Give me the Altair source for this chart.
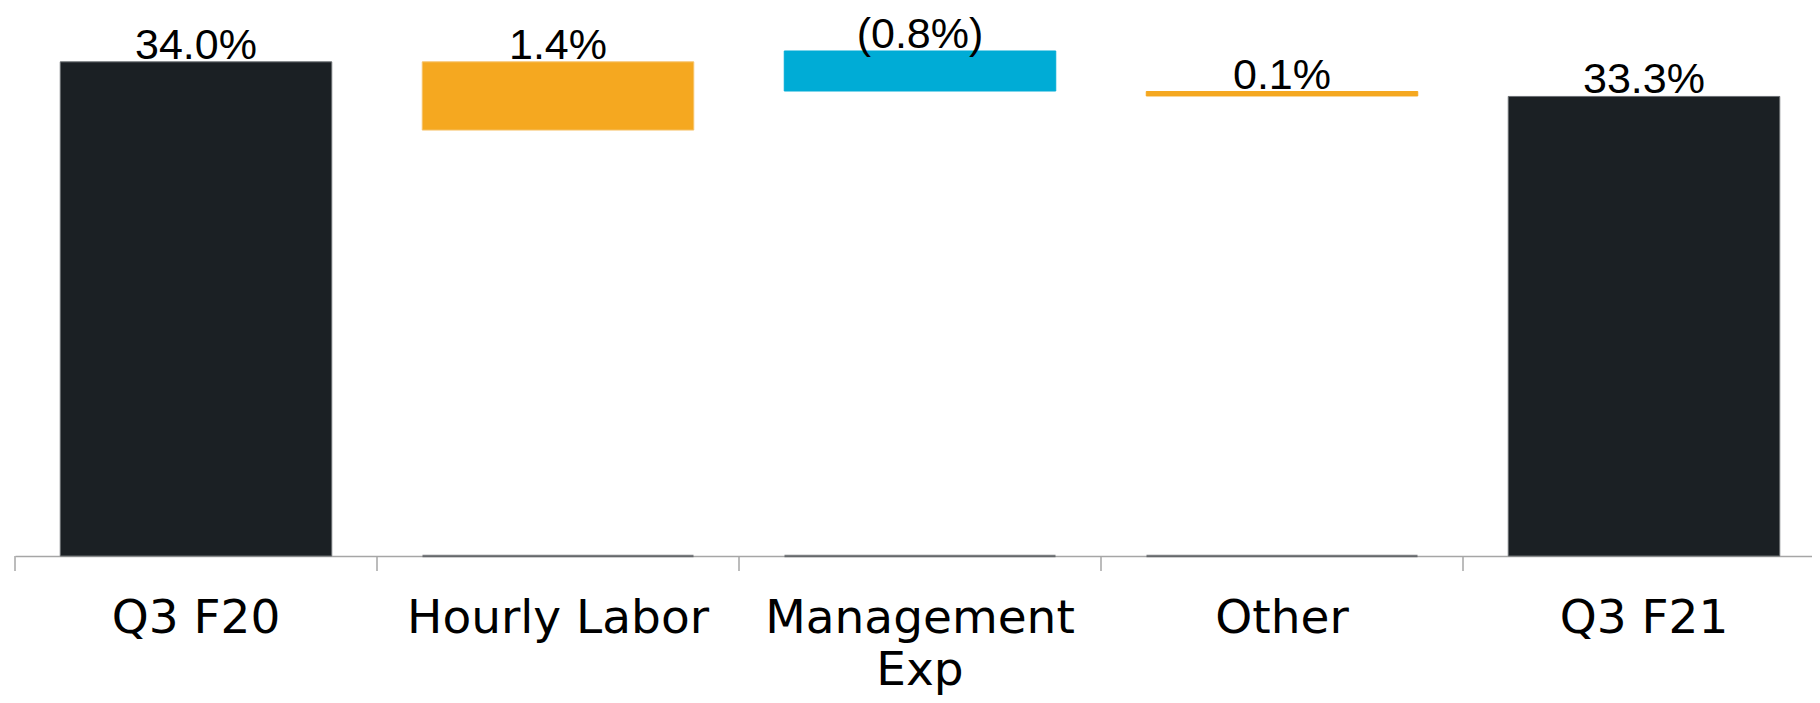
import altair as alt
import pandas as pd

categories = ["Q3 F20", "Hourly Labor", "Management Exp", "Other", "Q3 F21"]
value_labels = ["34.0%", "1.4%", "(0.8%)", "0.1%", "33.3%"]
bar_low = [24.0, 32.62, 33.41, 33.31, 24.0]
bar_high = [34.0, 34.0, 34.22, 33.40, 33.3]
fill_colors = ["#1b2024", "#f5a820", "#00acd6", "#f5a820", "#1b2024"]
stroke_colors = ["#6a6e71", "#f7c36a", "#00acd6", "#f5a820", "#6a6e71"]
base_line_cats = ["Hourly Labor", "Management Exp", "Other"]
axis_min = 24.0
axis_max = 35.09

df = pd.DataFrame({
    "cat": categories,
    "label": value_labels,
    "low": bar_low,
    "high": bar_high,
})
base_df = pd.DataFrame({"cat": base_line_cats, "base": [axis_min] * len(base_line_cats)})

xscale = alt.Scale(domain=categories, paddingInner=0, paddingOuter=0, range=[0, 1810])
yscale = alt.Scale(domain=[axis_min, axis_max], nice=False, zero=False)

x_enc = alt.X(
    "cat:N",
    scale=xscale,
    sort=categories,
    axis=alt.Axis(
        title=None,
        labelAngle=0,
        labelAlign="center",
        labelBaseline="top",
        ticks=False,
        domainColor="#a6a6a6",
        domainWidth=1.5,
        labelFont="DejaVu Sans",
        labelFontSize=47,
        labelColor="#000000",
        labelPadding=39,
        labelLineHeight=52,
        labelLimit=0,
        labelOverlap=False,
        labelBound=False,
        labelExpr="datum.label == 'Management Exp' ? ['Management', 'Exp'] : datum.label",
    ),
)

bars = alt.Chart(df).mark_bar(width=alt.RelativeBandSize(0.75), strokeWidth=1).encode(
    x=x_enc,
    y=alt.Y("low:Q", scale=yscale, axis=None),
    y2="high:Q",
    fill=alt.Fill("cat:N", scale=alt.Scale(domain=categories, range=fill_colors), legend=None),
    stroke=alt.Stroke("cat:N", scale=alt.Scale(domain=categories, range=stroke_colors), legend=None),
)

texts = alt.Chart(df).mark_text(
    baseline="alphabetic", dy=-3, font="Liberation Sans", fontSize=43, color="#000000"
).encode(
    x=alt.X("cat:N", scale=xscale, sort=categories),
    y=alt.Y("high:Q", scale=yscale),
    text="label:N",
)

ticks = alt.Chart(df).mark_rule(color="#a6a6a6", strokeWidth=1.5).encode(
    x=alt.X("cat:N", scale=xscale, sort=categories, bandPosition=0),
    y=alt.value(548),
    y2=alt.value(563),
)

base_lines = alt.Chart(base_df).mark_tick(
    orient="horizontal", size=271, thickness=2.5, color="#4a4f53"
).encode(
    x=alt.X("cat:N", scale=xscale, sort=categories),
    y=alt.Y("base:Q", scale=yscale),
)

chart = alt.layer(ticks, bars, base_lines, texts).properties(
    width=1797,
    height=548,
    padding={"left": 7, "top": 0, "right": 0, "bottom": 143},
    autosize=alt.AutoSizeParams(type="none"),
    background="#ffffff",
).configure_view(stroke=None)

chart.save("out.html", embed_options={"renderer": "svg", "actions": False})
